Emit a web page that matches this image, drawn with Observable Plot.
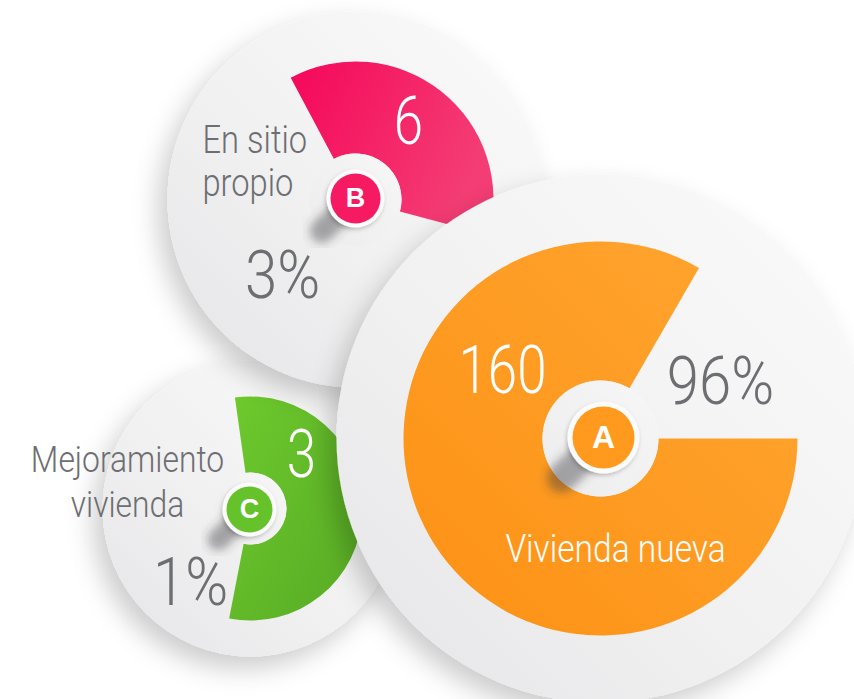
<!DOCTYPE html>
<html><head><meta charset="utf-8">
<script src="https://cdn.jsdelivr.net/npm/d3@7"></script>
<script src="https://cdn.jsdelivr.net/npm/@observablehq/plot@0.6"></script>
<style>
html,body{margin:0;padding:0;background:#fff;}
#chart{width:854px;height:699px;overflow:hidden;}
</style></head><body><div id="chart"></div>
<script>
// ---- data ----
const keys = ["A", "B", "C"];
const categories = ["Vivienda nueva", "En sitio propio", "Mejoramiento vivienda"];
const counts = [160, 6, 3];
const percents = [96, 3, 1];
const labelLines = [["Vivienda nueva"], ["En sitio", "propio"], ["Mejoramiento", "vivienda"]];

// ---- styles ----
const colors = {A: "#ff9a1e", B: "#f51a62", C: "#66c22a"};
const grayText = "#6d6e71";
const condense = {num: 0.8, pct: 0.88, label: 0.86};

// ---- layout (pixels) ----
const W = 854, H = 699;
const layout = {
  A: {cx: 600, cy: 438, disc: 264, outer: 197, inner: 58, a0: 90, a1: 390, bx: 603, by: 437, badge: 31, ring: 36, letterSize: 32,
      num: [502, 371], pct: [720, 382], lab: [615, 549], labAnchor: "middle", labGap: 0, labColor: "#fff", labSize: 39},
  B: {cx: 355, cy: 199, disc: 188, outer: 138, inner: 46, a0: -28, a1: 105, bx: 355, by: 198, badge: 25, ring: 29, letterSize: 27,
      num: [408, 122], pct: [282, 276.5], lab: [202, 140.5], labAnchor: "start", labGap: 43, labColor: grayText, labSize: 38},
  C: {cx: 250, cy: 508, disc: 148, outer: 112, inner: 36, a0: -8, a1: 191, bx: 249, by: 509, badge: 23, ring: 27, letterSize: 27,
      num: [301, 455], pct: [190, 583.5], lab: [127, 459.5], labAnchor: "middle", labGap: 45, labColor: grayText, labSize: 37}
};

const rows = keys.map((k, i) => ({key: k, category: categories[i], count: counts[i], percent: percents[i], lines: labelLines[i], ...layout[k]}));

// annular-sector symbol drawn around the dot's position
function sectorSymbol(d) {
  const rad = Math.PI / 180;
  return {
    draw(context) {
      d3.arc().innerRadius(d.inner).outerRadius(d.outer).startAngle(d.a0 * rad).endAngle(d.a1 * rad).context(context)();
    }
  };
}

const defsMark = () => {
  const ns = "http://www.w3.org/2000/svg";
  const g = document.createElementNS(ns, "defs");
  g.innerHTML = `
    <linearGradient id="discGrad" x1="1" y1="0" x2="0" y2="1">
      <stop offset="0" stop-color="#fbfbfb"/><stop offset="0.55" stop-color="#f1f1f2"/><stop offset="1" stop-color="#e5e5e7"/>
    </linearGradient>
    <linearGradient id="holeGrad" x1="1" y1="0" x2="0" y2="1">
      <stop offset="0" stop-color="#f7f7f7"/><stop offset="1" stop-color="#ececed"/>
    </linearGradient>
    <linearGradient id="gradA" x1="0" y1="1" x2="1" y2="0">
      <stop offset="0" stop-color="#fd9114"/><stop offset="1" stop-color="#ffa631"/>
    </linearGradient>
    <linearGradient id="gradB" x1="0" y1="0" x2="1" y2="0.4">
      <stop offset="0" stop-color="#f5075a"/><stop offset="1" stop-color="#f43d74"/>
    </linearGradient>
    <linearGradient id="gradC" x1="0" y1="0" x2="1" y2="1">
      <stop offset="0" stop-color="#6dca2d"/><stop offset="1" stop-color="#57aa24"/>
    </linearGradient>
    <filter id="discShadow" x="-30%" y="-30%" width="160%" height="160%">
      <feDropShadow dx="-9" dy="12" stdDeviation="13" flood-color="#000" flood-opacity="0.2"/>
    </filter>
    <filter id="blurShadow" x="-80%" y="-80%" width="260%" height="260%">
      <feGaussianBlur stdDeviation="5"/>
    </filter>
    <filter id="ringShadow" x="-40%" y="-40%" width="180%" height="180%">
      <feDropShadow dx="-1" dy="2" stdDeviation="2" flood-color="#000" flood-opacity="0.22"/>
    </filter>`;
  return g;
};

const marks = [defsMark];
for (const k of ["C", "B", "A"]) {
  const d = rows.find(r => r.key === k);
  const one = [d];
  marks.push(
    Plot.dot(one, {x: "cx", y: "cy", r: "disc", fill: "url(#discGrad)", stroke: "none", ariaDescription: "disc"}),
    Plot.dot(one, {x: "cx", y: "cy", symbol: sectorSymbol(d), fill: `url(#grad${k})`, stroke: "none"}),
    Plot.dot(one, {x: "cx", y: "cy", r: "inner", fill: "url(#holeGrad)", stroke: "none"}),
    Plot.link(one, {x1: d => d.bx - d.badge * 0.45, y1: d => d.by + d.badge * 0.45, x2: d => d.bx - d.badge * 1.35, y2: d => d.by + d.badge * 1.3,
      stroke: "#3a3a3c", strokeWidth: d.badge * 0.95, strokeOpacity: 0.42, strokeLinecap: "round", ariaDescription: "bshadow"}),
    Plot.dot(one, {x: "bx", y: "by", r: "ring", fill: "#fbfbfb", stroke: "none", ariaDescription: "ring"}),
    Plot.dot(one, {x: "bx", y: "by", r: "badge", fill: colors[k], stroke: "none"}),
    Plot.text(one, {x: "bx", y: "by", text: "key", fill: "#fff", fontSize: d.letterSize, fontWeight: 700, fontFamily: "Liberation Sans, Arial, sans-serif"}),
    Plot.text(one, {x: d => d.num[0], y: d => d.num[1], text: d => String(d.count), fill: "#fff", fontSize: 66, fontWeight: 300, fontFamily: "Roboto, sans-serif", ariaDescription: "num"}),
    Plot.text(one, {x: d => d.pct[0], y: d => d.pct[1], text: d => d.percent + "%", fill: grayText, fontSize: 66, fontWeight: 300, fontFamily: "Roboto, sans-serif", ariaDescription: "pct"}),
    Plot.text(d.lines.map((t, i) => ({t, i})), {x: () => d.lab[0], y: r => d.lab[1] + r.i * d.labGap, text: "t", fill: d.labColor, fontSize: d.labSize, fontWeight: 300,
      fontFamily: "Roboto, sans-serif", textAnchor: d.labAnchor, ariaDescription: "label"})
  );
}

const svg = Plot.plot({
  width: W, height: H, margin: 0,
  x: {domain: [0, W], range: [0, W], axis: null},
  y: {domain: [0, H], range: [0, H], axis: null},
  r: {type: "identity"},
  style: {background: "#fff", overflow: "hidden"},
  marks
});

const s = d3.select(svg);
s.selectAll('g[aria-description="disc"]').attr("filter", "url(#discShadow)");
s.selectAll('g[aria-description="bshadow"]').attr("filter", "url(#blurShadow)");
s.selectAll('g[aria-description="ring"]').attr("filter", "url(#ringShadow)");
for (const [name, k] of Object.entries(condense)) {
  s.selectAll(`g[aria-description="${name}"] text`).each(function () {
    const t = this.getAttribute("transform");
    if (t) this.setAttribute("transform", t + ` scale(${k},1)`);
    else {
      const x = +this.getAttribute("x") || 0, y = +this.getAttribute("y") || 0;
      this.removeAttribute("x"); this.removeAttribute("y");
      this.setAttribute("transform", `translate(${x},${y}) scale(${k},1)`);
    }
  });
}
document.getElementById("chart").appendChild(svg);
</script></body></html>
